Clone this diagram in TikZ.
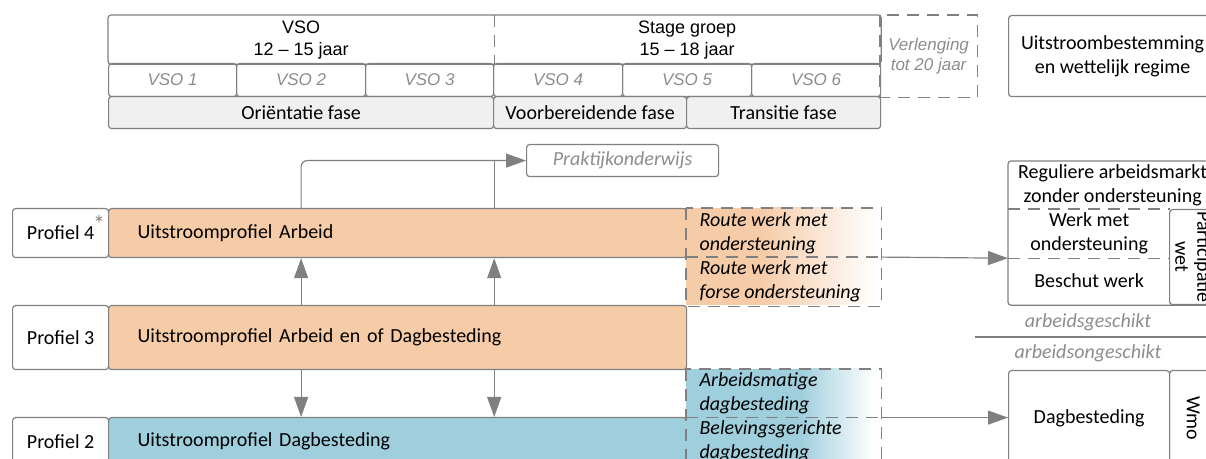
\documentclass[tikz,border=0pt]{standalone}
\usepackage{fontspec}
\setmainfont{Carlito}
\newfontfamily\arialfont{Liberation Sans}
\usetikzlibrary{arrows.meta,calc}

\definecolor{linegray}{HTML}{808080}
\definecolor{textgray}{HTML}{8C8C8C}
\definecolor{phasegray}{HTML}{F0F0F0}
\definecolor{arbeid}{HTML}{F6CBA7}
\definecolor{dagbest}{HTML}{9FCEDC}

\begin{document}
\begin{tikzpicture}%
        [x=0.5pt, y=-0.5pt,
        line width=0.6pt,
        cell/.style 2 args={draw=linegray, rounded corners=1.5pt, inner sep=0pt,
            anchor=north west, minimum width=#1*0.5pt, minimum height=#2*0.5pt,
            align=center, font=\fontsize{10}{12}\selectfont},
        bare/.style 2 args={cell={#1}{#2}, draw=none},
        headtext/.style={font=\arialfont\fontsize{9}{11}\selectfont},
        yeartext/.style={font=\arialfont\itshape\fontsize{8.5}{10}\selectfont, text=textgray},
        phase/.style={fill=phasegray},
        uitbox/.style={align=left, inner xsep=14.5pt, text width=260pt},
        routetext/.style={anchor=west, inner sep=0pt, align=left,
            font=\itshape\fontsize{10}{12}\selectfont},
        graytext/.style={inner sep=0pt, text=textgray, font=\itshape\fontsize{10}{12}\selectfont},
        turned/.style={inner sep=0pt, rotate=-90, align=center, font=\fontsize{10}{11}\selectfont},
        line/.style={draw=linegray},
        dashline/.style={draw=linegray, dash pattern=on 6pt off 4pt},
        conn/.style={draw=linegray, -{Triangle[length=10pt,width=7pt]}}]

    \useasboundingbox (0,0) rectangle (1206,459);
    \clip (0,0) rectangle (1206,459);

    %% Schooljaren
    \node[cell={96}{81}, draw=none] (verl) at (880,15) {};
    \draw[dashline] (verl.north west) rectangle (verl.south east);
    \node[yeartext, align=center] (verltext) at (verl.center) {Verlenging\\tot 20 jaar};

    \node[bare={385}{48}, headtext] (vsohead) at (108,15) {VSO\\12 – 15 jaar};
    \node[bare={387}{48}, headtext] (stagehead) at (493,15) {Stage groep\\15 – 18 jaar};
    \draw[line, rounded corners=1.5pt] (vsohead.north west) rectangle (stagehead.south east);
    \draw[dashline] (vsohead.north east) -- (vsohead.south east);

    \node[cell={128}{33}, yeartext] (vso1) at (108,63) {VSO 1};
    \node[cell={129}{33}, yeartext] (vso2) at (236,63) {VSO 2};
    \node[cell={128}{33}, yeartext] (vso3) at (365,63) {VSO 3};
    \node[cell={129}{33}, yeartext] (vso4) at (493,63) {VSO 4};
    \node[cell={129}{33}, yeartext] (vso5) at (622,63) {VSO 5};
    \node[cell={129}{33}, yeartext] (vso6) at (751,63) {VSO 6};

    \node[cell={385}{32}, phase] (orient) at (108,96) {Oriëntatie fase};
    \node[cell={193}{32}, phase] (voorb) at (493,96) {Voorbereidende fase};
    \node[cell={194}{32}, phase] (trans) at (686,96) {Transitie fase};

    \node[cell={208}{81}] (uitbest) at (1008,15) {Uitstroombestemming\\en wettelijk regime};

    %% Profielen
    \node[cell={192}{32}, graytext, anchor=north west] (prakt) at (526,144) {Praktijkonderwijs};

    \node[cell={96}{49}] (prof4) at (12,208) {Profiel 4};
    \node[text=linegray, inner sep=0pt, font=\large] (ster) at (99,224) {*};
    \node[cell={578}{49}, fill=arbeid, uitbox] (uit4) at (108,208) {Uitstroomprofiel Arbeid};

    \node[cell={96}{64}] (prof3) at (12,305) {Profiel 3};
    \node[cell={578}{64}, fill=arbeid, uitbox] (uit3) at (108,305) {Uitstroomprofiel Arbeid en of Dagbesteding};

    \node[cell={96}{48}] (prof2) at (12,417) {Profiel 2};
    \node[cell={578}{48}, fill=dagbest, uitbox] (uit2) at (108,417) {Uitstroomprofiel Dagbesteding};

    %% Routes
    \node[bare={194}{97}] (route4) at (686,208) {};
    \fill[arbeid] (route4.north west) rectangle (760,305);
    \shade[left color=arbeid, right color=white] (760,208) rectangle (876,305);
    \draw[dashline] (route4.north west) rectangle (route4.south east);
    \draw[dashline] (route4.west) -- (route4.east);
    \node[routetext] (r4a) at (699,233) {Route werk met\\ondersteuning};
    \node[routetext] (r4b) at (699,281) {Route werk met\\forse ondersteuning};

    \node[bare={194}{96}] (route2) at (686,369) {};
    \fill[dagbest] (route2.north west) rectangle (800,465);
    \shade[left color=dagbest, right color=white] (800,369) rectangle (874,465);
    \draw[dashline] (route2.north west) rectangle (route2.south east);
    \draw[dashline] (route2.west) -- (route2.east);
    \node[routetext] (r2a) at (699,393) {Arbeidsmatige\\dagbesteding};
    \node[routetext] (r2b) at (699,441) {Belevingsgerichte\\dagbesteding};

    %% Uitstroombestemmingen
    \node[bare={208}{48}] (reg) at (1008,161) {Reguliere arbeidsmarkt\\zonder ondersteuning};
    \node[bare={161}{48}] (werk) at (1008,209) {Werk met\\ondersteuning};
    \node[bare={161}{47}] (beschut) at (1008,257) {Beschut werk};
    \node[cell={47}{95}] (partbox) at (1169,209) {};
    \node[turned] (parttext) at (partbox.center) {Participatie\\wet};
    \draw[line, rounded corners=1.5pt] (reg.north west) rectangle (partbox.south east);
    \draw[dashline] (werk.north west) -- (werk.north east);
    \draw[dashline] (werk.south west) -- (werk.south east);
    \coordinate (markt) at (reg.west |- werk.south);

    \node[graytext] (geschikt) at (1088,322) {arbeidsgeschikt};
    \draw[line] (975,337) -- (1230,337);
    \node[graytext] (ongeschikt) at (1088,353) {arbeidsongeschikt};

    \node[cell={161}{95}] (dagb) at (1008,370) {Dagbesteding};
    \node[cell={47}{95}] (wmobox) at (1169,370) {};
    \node[turned] (wmotext) at (wmobox.center) {Wmo};

    %% Verbindingen
    \draw[conn, rounded corners=3pt] (vsohead.south |- uit4.north) |- (prakt.west);
    \draw[line] (vsohead.south east |- uit4.north) -- (vsohead.south east |- prakt.west);
    \draw[conn] (vsohead.south |- uit3.north) -- (vsohead.south |- uit4.south);
    \draw[conn] (vsohead.south east |- uit3.north) -- (vsohead.south east |- uit4.south);
    \draw[conn] (vsohead.south |- uit3.south) -- (vsohead.south |- uit2.north);
    \draw[conn] (vsohead.south east |- uit3.south) -- (vsohead.south east |- uit2.north);
    \draw[conn] (route4.east) -- (markt);
    \draw[conn] (route2.east) -- (route2.east -| dagb.west);
\end{tikzpicture}
\end{document}
